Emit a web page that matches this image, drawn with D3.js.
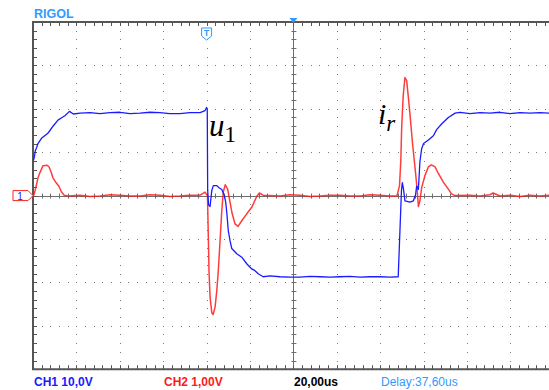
<!DOCTYPE html>
<html>
<head>
<meta charset="utf-8">
<script src="https://cdn.jsdelivr.net/npm/d3@7"></script>
<style>
  body { margin: 0; background: #fff; }
  svg { display: block; }
</style>
</head>
<body>
<div id="chart"></div>
<script>
// scope settings (20 us/div, CH1 10 V/div, CH2 1 V/div)
const timeDivs = d3.range(0, 241, 20);      // us, 12 divisions
const ch1Divs = d3.range(-40, 41, 10);      // V, 8 divisions
const labels = ['CH1 10,0V', 'CH2 1,00V', '20,00us', 'Delay:37,60us'];

// CH1 (blue) - time in us from left edge, volts
const ch1Time = [0.2, 0.6, 1.1, 1.7, 2.3, 3.9, 5.4, 6.7, 7.8, 9.4, 11.5, 13.4, 14.7, 16.8, 18.6, 21.7,
  26.3, 30.9, 35.5, 40.1, 44.7, 49.3, 53.9, 58.5, 63.1, 67.7, 72.3, 77.0, 79.3, 80.0, 80.3,
  80.5, 80.9, 81.6, 82.4, 83.1, 84.7, 85.7, 87.0, 88.2, 88.8, 89.3, 90.0, 90.8, 91.6, 93.9, 96.2,
  98.5, 100.8, 102.3, 103.8, 106.1, 109.2, 113.8, 118.4, 123.0, 127.7, 132.3, 136.9, 141.5, 146.1,
  150.7, 155.3, 159.9, 164.5, 168.3,
  169.1, 169.8, 170.2, 170.7, 171.4, 173.7, 175.3, 176.3, 176.8, 177.6, 178.3, 179.1, 180.0,
  182.2, 184.5, 186.0, 188.3, 191.4, 194.5, 196.8, 201.4, 206.0, 210.6, 215.2, 219.8, 224.4,
  229.0, 233.6, 237.8];
const ch1Volts = [8.1, 8.8, 10.4, 11.1, 12.0, 13.2, 13.8, 14.3, 15.0, 16.1, 17.4, 18.0, 18.4, 19.4, 18.8, 19.0,
  19.1, 18.9, 19.1, 19.2, 18.9, 19.0, 19.2, 19.1, 18.9, 18.9, 19.1, 19.1, 19.6, 20.3, 20.0,
  1.2, -2.1, -2.5, 1.2, 2.3, 2.3, 1.8, 1.4, 0.0, -1.5, -3.9, -8.1, -10.4, -12.2, -13.4, -14.2,
  -15.7, -16.9, -17.3, -18.0, -18.7, -18.5, -18.7, -18.8, -18.8, -18.6, -18.7, -18.8, -18.7, -18.6,
  -18.8, -18.7, -18.7, -18.8, -18.7,
  -8.1, 1.2, 3.0, 1.6, -1.2, -1.5, -1.2, 0.2, 2.2, 1.4, 7.8, 10.8, 12.0,
  12.8, 13.8, 15.2, 16.5, 18.0, 19.0, 19.2, 18.9, 19.1, 19.0, 19.2, 18.9, 19.1,
  19.0, 19.1, 19.0];

// CH2 (red) - time in us from left edge, volts
const ch2Time = [0.2, 0.6, 1.6, 2.3, 3.2, 4.6, 6.5, 7.4, 8.3, 9.2, 10.6, 12.0, 13.1, 14.3, 16.1,
  21.7, 26.3, 30.9, 35.5, 40.1, 44.7, 49.3, 53.9, 58.5, 63.1, 67.7, 72.3, 77.0, 79.3,
  80.4, 80.8, 81.1, 81.6, 82.4, 83.0, 83.9, 84.7, 85.4, 86.2, 87.0, 87.7, 88.6, 89.7, 90.8,
  91.8, 93.1, 94.5, 96.2, 98.5, 100.8, 103.1, 104.3, 106.0,
  113.8, 118.4, 123.0, 127.7, 132.3, 136.9, 141.5, 146.1, 150.7, 155.3, 159.9, 164.5, 167.7,
  168.9, 169.5, 169.9, 170.6, 171.4, 172.2, 172.9, 173.7, 174.9, 176.0, 176.9, 177.6, 178.3,
  179.1, 180.6, 182.2, 183.6, 185.3, 186.8, 189.1, 191.4, 192.9, 194.5,
  201.4, 206.0, 210.6, 212.0, 215.2, 219.8, 224.4, 229.0, 233.6, 237.8];
const ch2Volts = [0.0, 0.04, 0.25, 0.41, 0.53, 0.69, 0.70, 0.66, 0.55, 0.41, 0.30, 0.21, 0.09, 0.01, -0.01,
  0.01, -0.02, -0.01, 0.02, 0.01, -0.01, -0.01, 0.02, 0.01, -0.02, -0.01, 0.01, 0.01, 0.08,
  0.0, -0.96, -1.73, -2.34, -2.70, -2.74, -2.57, -2.19, -1.73, -1.04, -0.35, 0.09, 0.25, 0.15, -0.15,
  -0.42, -0.65, -0.71, -0.58, -0.42, -0.27, -0.02, 0.06, 0.01,
  -0.01, 0.02, 0.01, -0.02, -0.01, 0.01, 0.01, -0.01, -0.01, 0.02, 0.01, -0.01, -0.01,
  0.23, 0.81, 1.57, 2.30, 2.72, 2.65, 2.30, 1.89, 1.20, 0.67, 0.21, -0.25, -0.12,
  0.18, 0.46, 0.66, 0.71, 0.66, 0.51, 0.31, 0.15, 0.04, 0.0,
  0.01, -0.01, 0.02, 0.06, -0.01, 0.01, -0.02, 0.01, -0.01, 0.01];

const width = 549, height = 390;
const plotLeft = 33, plotTop = 22, div = 43.4;

const svg = d3.select('#chart').append('svg')
    .attr('width', width)
    .attr('height', height);

const x = d3.scaleLinear().domain([0, 240]).range([plotLeft, plotLeft + 12 * div]);
const y1 = d3.scaleLinear().domain([-40, 40]).range([plotTop + 8 * div, plotTop]);
const y2 = d3.scaleLinear().domain([-4, 4]).range([plotTop + 8 * div, plotTop]);

const x0 = x(120), yc = y1(0);
const plotRight = width, plotBottom = y1(-40);

// dotted grid: a dot every 1/5 division on each division line
const minorT = d3.range(0, 241, 4).filter(t => x(t) <= plotRight);
const minorV = d3.range(-40, 41, 2);
const grid = svg.append('g').attr('fill', '#7a7a7a');
timeDivs.filter(t => t > 0 && t !== 120 && x(t) < plotRight).forEach(t => {
    grid.selectAll(null).data(minorV).enter().append('rect')
        .attr('x', Math.round(x(t))).attr('y', d => Math.round(y1(d)))
        .attr('width', 1).attr('height', 1);
});
ch1Divs.filter(v => v > -40 && v < 40 && v !== 0).forEach(v => {
    grid.selectAll(null).data(minorT).enter().append('rect')
        .attr('x', d => Math.round(x(d))).attr('y', Math.round(y1(v)))
        .attr('width', 1).attr('height', 1);
});

// center crosshair with ticks
const axes = svg.append('g').attr('stroke', '#6e6e6e').attr('stroke-width', 1);
axes.append('line').attr('x1', plotLeft).attr('x2', plotRight).attr('y1', Math.round(yc) + 0.5).attr('y2', Math.round(yc) + 0.5);
axes.append('line').attr('x1', Math.round(x0) + 0.5).attr('x2', Math.round(x0) + 0.5).attr('y1', plotTop).attr('y2', plotBottom);
axes.selectAll(null).data(minorT).enter().append('line')
    .attr('x1', d => Math.round(x(d)) + 0.5).attr('x2', d => Math.round(x(d)) + 0.5)
    .attr('y1', yc - 2).attr('y2', yc + 3);
axes.selectAll(null).data(minorV).enter().append('line')
    .attr('y1', d => Math.round(y1(d)) + 0.5).attr('y2', d => Math.round(y1(d)) + 0.5)
    .attr('x1', x0 - 2).attr('x2', x0 + 3);

// border with inward ticks
const frame = svg.append('g').attr('stroke', '#555');
frame.append('path')
    .attr('d', `M${plotRight},${plotTop}H${plotLeft}V${plotBottom}H${plotRight}`)
    .attr('fill', 'none').attr('stroke-width', 2);
frame.selectAll(null).data(minorT).enter().append('line')
    .attr('x1', d => Math.round(x(d)) + 0.5).attr('x2', d => Math.round(x(d)) + 0.5)
    .attr('y1', plotTop).attr('y2', plotTop + 4);
frame.selectAll(null).data(minorT).enter().append('line')
    .attr('x1', d => Math.round(x(d)) + 0.5).attr('x2', d => Math.round(x(d)) + 0.5)
    .attr('y1', plotBottom - 4).attr('y2', plotBottom);
frame.selectAll(null).data(minorV).enter().append('line')
    .attr('y1', d => Math.round(y1(d)) + 0.5).attr('y2', d => Math.round(y1(d)) + 0.5)
    .attr('x1', plotLeft).attr('x2', plotLeft + 4);

// traces
svg.append('clipPath').attr('id', 'clip').append('rect')
    .attr('x', plotLeft).attr('y', plotTop).attr('width', plotRight - plotLeft).attr('height', plotBottom - plotTop);

const line1 = d3.line().x((d, i) => x(ch1Time[i])).y(d => y1(d));
const line2 = d3.line().x((d, i) => x(ch2Time[i])).y(d => y2(d));

svg.append('path').datum(ch2Volts)
    .attr('clip-path', 'url(#clip)')
    .attr('d', line2)
    .attr('fill', 'none').attr('stroke', '#ff1a1a').attr('stroke-opacity', 0.85)
    .attr('stroke-width', 1.5).attr('stroke-linejoin', 'round');
svg.append('path').datum(ch1Volts)
    .attr('clip-path', 'url(#clip)')
    .attr('d', line1)
    .attr('fill', 'none').attr('stroke', '#1a1aff')
    .attr('stroke-width', 1.3).attr('stroke-linejoin', 'round');

// trace annotations
const u1 = svg.append('text').attr('x', 209).attr('y', 136)
    .attr('font-family', 'Liberation Serif, serif').attr('fill', '#000');
u1.append('tspan').attr('font-style', 'italic').attr('font-size', 31).text('u');
u1.append('tspan').attr('font-size', 23).attr('dy', 6).text('1');

const ir = svg.append('text').attr('x', 378).attr('y', 124)
    .attr('font-family', 'Liberation Serif, serif').attr('fill', '#000');
ir.append('tspan').attr('font-style', 'italic').attr('font-size', 30).text('i');
ir.append('tspan').attr('font-style', 'italic').attr('font-size', 23).attr('dy', 7).text('r');

// markers
svg.append('path')
    .attr('d', `M${plotLeft - 20},${yc - 5}H${plotLeft - 5}L${plotLeft},${yc}L${plotLeft - 5},${yc + 5}H${plotLeft - 20}Z`)
    .attr('fill', '#fff').attr('stroke', '#ff2020').attr('stroke-width', 1);
svg.append('text').attr('x', plotLeft - 13).attr('y', yc + 4)
    .attr('font-family', 'Liberation Sans, sans-serif').attr('font-size', 10)
    .attr('fill', '#2020ff').attr('text-anchor', 'middle').text('1');

svg.append('path')
    .attr('d', `M${x0 - 4},${plotTop - 4}H${x0 + 4}L${x0},${plotTop + 1}Z`)
    .attr('fill', '#3399ff');
svg.append('path')
    .attr('d', `M${x(80) - 5},${plotTop + 6}H${x(80) + 5}V${plotTop + 14}L${x(80)},${plotTop + 18}L${x(80) - 5},${plotTop + 14}Z`)
    .attr('fill', '#fff').attr('stroke', '#3399ff').attr('stroke-width', 1);
svg.append('text').attr('x', x(80)).attr('y', plotTop + 14)
    .attr('font-family', 'Liberation Sans, sans-serif').attr('font-size', 9).attr('font-weight', 'bold')
    .attr('fill', '#3399ff').attr('text-anchor', 'middle').text('T');

// header and status line
svg.append('text').attr('x', 34).attr('y', 18)
    .attr('font-family', 'Liberation Sans, Arial, sans-serif').attr('font-size', 12.5)
    .attr('font-weight', 'bold').attr('fill', '#3399ff').text('RIGOL');

const status = svg.append('g')
    .attr('font-family', 'Liberation Sans, Arial, sans-serif').attr('font-size', 12);
const statusX = [34, 164, 294, 381];
const statusColor = ['#1a1aff', '#ff1a1a', '#000', '#3399ff'];
status.selectAll('text').data(labels).enter().append('text')
    .attr('x', (d, i) => statusX[i]).attr('y', 386)
    .attr('fill', (d, i) => statusColor[i])
    .attr('font-weight', (d, i) => i < 3 ? 'bold' : 'normal')
    .text(d => d);
</script>
</body>
</html>
